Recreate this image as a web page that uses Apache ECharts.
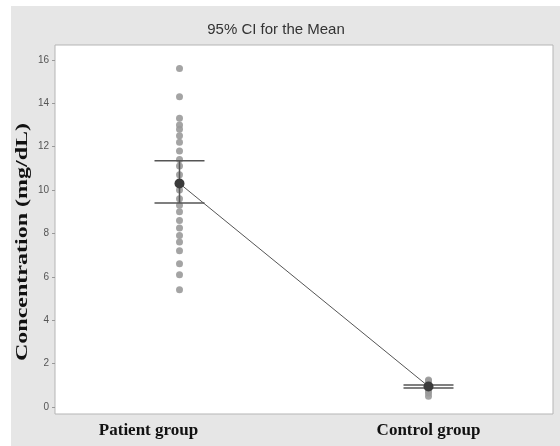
<!DOCTYPE html>
<html>
<head>
<meta charset="utf-8">
<script src="https://cdn.jsdelivr.net/npm/echarts@6/dist/echarts.min.js"></script>
<style>
html,body{margin:0;padding:0;background:#fff;}
#bg{position:absolute;left:11px;top:6px;width:549px;height:440px;background:#e6e6e6;}
#c{position:absolute;left:0;top:0;width:560px;height:446px;}
</style>
</head>
<body>
<div id="bg"></div>
<div id="c"></div>
<script>
const categories = ['Patient group', 'Control group'];
const patientValues = [15.6, 14.3, 13.3, 13.0, 12.8, 12.5, 12.2, 11.8, 11.4, 11.1, 10.7, 10.3, 10.0, 9.6, 9.3, 9.0, 8.6, 8.25, 7.9, 7.6, 7.2, 6.6, 6.1, 5.4];
const controlValues = [0.5, 0.65, 0.75, 0.85, 0.9, 0.95, 1.0, 1.05, 1.1, 1.2, 1.25];
const means = [10.3, 0.95];
const ciLow = [9.4, 0.88];
const ciHigh = [11.35, 1.02];
const yTicks = [0, 2, 4, 6, 8, 10, 12, 14, 16];
const yTitle = 'Concentration (mg/dL)';

const pts = [];
patientValues.forEach(v => pts.push([0, v]));
controlValues.forEach(v => pts.push([1, v]));

const chart = echarts.init(document.getElementById('c'));
chart.setOption({
  backgroundColor: 'transparent',
  animation: false,
  title: {
    text: '95% CI for the Mean',
    left: 271, top: 17, textAlign: 'center',
    textStyle: {fontFamily: 'Liberation Sans Narrow, Arial Narrow, sans-serif', fontSize: 15, fontWeight: 'normal', color: '#333'}
  },
  graphic: [{
    type: 'text', x: 31, y: 242, rotation: Math.PI / 2, scaleX: 1.5,
    style: {text: yTitle, fontFamily: 'Liberation Serif, Times New Roman, serif', fontWeight: 'bold', fontSize: 16, fill: '#111', align: 'center', verticalAlign: 'bottom'}
  }],
  grid: {left: 55, right: 7, top: 45, bottom: 32, show: true, backgroundColor: '#fff', borderColor: '#b5b5b5', borderWidth: 1},
  xAxis: {
    type: 'category',
    data: categories.map((c, i) => i === 0 ? {value: c, textStyle: {padding: [0, 62, 0, 0]}} : c),
    boundaryGap: true,
    axisLine: {show: false}, axisTick: {show: false},
    axisLabel: {fontFamily: 'Liberation Serif, Times New Roman, serif', fontWeight: 'bold', fontSize: 17, color: '#111', margin: 8}
  },
  yAxis: {
    type: 'value', min: -0.32, max: 16.68,
    splitLine: {show: false},
    axisLine: {show: false},
    axisTick: {show: true, customValues: yTicks, length: 3, lineStyle: {color: '#999'}},
    axisLabel: {customValues: yTicks, fontSize: 10, color: '#555', margin: 6, fontFamily: 'Liberation Sans Narrow, sans-serif'}
  },
  series: [
    {
      type: 'scatter', data: pts, symbolSize: 7,
      itemStyle: {color: '#9a9a9a', opacity: 0.9}, z: 2
    },
    {
      type: 'custom', z: 3,
      data: categories.map((c, i) => [i, ciLow[i], ciHigh[i]]),
      renderItem: function (params, api) {
        const lo = api.coord([api.value(0), api.value(1)]);
        const hi = api.coord([api.value(0), api.value(2)]);
        const hw = 25;
        const st = {stroke: '#555', lineWidth: 1.5};
        return {type: 'group', children: [
          {type: 'line', shape: {x1: hi[0], y1: hi[1], x2: lo[0], y2: lo[1]}, style: {stroke: '#555', lineWidth: 1.5}},
          {type: 'line', shape: {x1: hi[0] - hw, y1: hi[1], x2: hi[0] + hw, y2: hi[1]}, style: st},
          {type: 'line', shape: {x1: lo[0] - hw, y1: lo[1], x2: lo[0] + hw, y2: lo[1]}, style: st}
        ]};
      }
    },
    {
      type: 'line', data: means.map((m, i) => [i, m]),
      symbol: 'circle', symbolSize: 10,
      lineStyle: {color: '#555', width: 1},
      itemStyle: {color: '#3a3a3a'}, z: 4
    }
  ]
});
</script>
</body>
</html>
